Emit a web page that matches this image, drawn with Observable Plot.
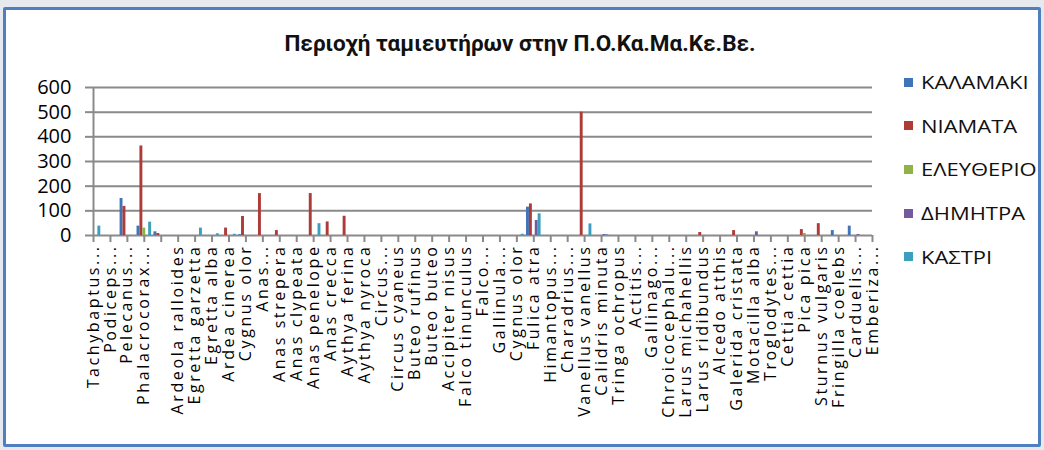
<!DOCTYPE html>
<html>
<head>
<meta charset="utf-8">
<script src="https://cdn.jsdelivr.net/npm/d3@7"></script>
<script src="https://cdn.jsdelivr.net/npm/@observablehq/plot@0.6"></script>
<style>
  html, body { margin: 0; padding: 0; background: #e6eaef; }
  #page { position: relative; width: 1044px; height: 450px; overflow: hidden; }
  #box { position: absolute; left: 3px; top: 7px; width: 1032px; height: 434px;
         border: 3px solid #4f7fbf; background: #fff; border-radius: 2px; }
  #title { position: absolute; left: 0; width: 1040px; top: 30px; text-align: center;
           font-family: Roboto, "Open Sans", sans-serif; font-weight: bold; font-size: 22.5px; color: #111; }
  #chart { position: absolute; left: 0; top: 0; }
  #chart g[aria-label="text"] { letter-spacing: 2.6px; }
  #legend { position: absolute; left: 904px; top: 70px; font-family: "Open Sans", sans-serif; font-size: 18px; color: #111; }
  .li { position: absolute; left: 0; white-space: nowrap; display: flex; align-items: center; }
  .sw { width: 9px; height: 9px; margin-right: 8px; }
  .lt { display: inline-block; transform: scaleX(1.22); transform-origin: left center; }
</style>
</head>
<body>
<div id="page">
  <div id="box"></div>
  <div id="title">Περιοχή ταμιευτήρων στην Π.Ο.Κα.Μα.Κε.Βε.</div>
  <div id="chart"></div>
  <div id="legend"></div>
</div>
<script>
// Categories (index 4 has no label in the original)
const categories = [
  "Tachybaptus...", "Podiceps...", "Pelecanus...", "Phalacrocorax...", "",
  "Ardeola ralloides", "Egretta garzetta", "Egretta alba", "Ardea cinerea", "Cygnus olor",
  "Anas...", "Anas strepera", "Anas clypeata", "Anas penelope", "Anas crecca",
  "Aythya ferina", "Aythya nyroca", "Circus...", "Circus cyaneus", "Buteo rufinus",
  "Buteo buteo", "Accipiter nisus", "Falco tinunculus", "Falco...", "Gallinula...",
  "Cygnus olor", "Fulica atra", "Himantopus...", "Charadrius...", "Vanellus vanellus",
  "Calidris minuta", "Tringa ochropus", "Actitis...", "Gallinago...", "Chroicocephalu...",
  "Larus michahellis", "Larus ridibundus", "Alcedo atthis", "Galerida cristata", "Motacilla alba",
  "Troglodytes...", "Cettia cettia", "Pica pica", "Sturnus vulgaris", "Fringilla coelebs",
  "Carduelis...", "Emberiza..."
];

const seriesNames = ["ΚΑΛΑΜΑΚΙ", "ΝΙΑΜΑΤΑ", "ΕΛΕΥΘΕΡΙΟ", "ΔΗΜΗΤΡΑ", "ΚΑΣΤΡΙ"];
const seriesColors = ["#3f74b8", "#ad3b38", "#8fb24b", "#7559a0", "#3b9fbe"];

const kalamaki = [
  0, 0, 150, 38, 15, 0, 0, 0, 0, 3,
  0, 0, 0, 0, 0, 0, 0, 0, 0, 0,
  0, 0, 0, 0, 0, 0, 115, 0, 0, 0,
  0, 0, 0, 0, 0, 0, 0, 0, 0, 0,
  0, 0, 0, 0, 20, 38, 0
];
const niamata = [
  0, 0, 118, 363, 8, 0, 0, 0, 30, 77,
  170, 20, 0, 170, 55, 78, 0, 0, 0, 0,
  0, 0, 0, 0, 0, 0, 128, 0, 0, 500,
  0, 0, 0, 0, 0, 0, 12, 0, 20, 0,
  0, 0, 24, 48, 0, 0, 0
];
const eleftherio = [
  0, 0, 0, 30, 0, 0, 0, 0, 0, 0,
  0, 0, 0, 0, 0, 0, 0, 0, 0, 0,
  0, 0, 0, 0, 0, 0, 0, 0, 0, 0,
  0, 0, 0, 0, 0, 0, 0, 0, 0, 0,
  0, 0, 8, 0, 0, 0, 0
];
const dimitra = [
  0, 0, 0, 0, 0, 0, 0, 0, 0, 0,
  0, 0, 0, 0, 0, 0, 0, 0, 0, 0,
  0, 0, 0, 0, 0, 0, 61, 0, 0, 0,
  4, 0, 0, 0, 0, 0, 0, 0, 0, 15,
  0, 0, 0, 0, 0, 4, 0
];
const kastri = [
  38, 0, 0, 54, 0, 0, 30, 7, 5, 0,
  0, 0, 0, 48, 0, 0, 0, 0, 0, 0,
  0, 0, 0, 0, 0, 5, 88, 0, 0, 47,
  3, 0, 0, 0, 0, 0, 0, 0, 0, 0,
  0, 0, 0, 0, 0, 0, 0
];

const yTicks = [0, 100, 200, 300, 400, 500, 600];

const seriesValues = [kalamaki, niamata, eleftherio, dimitra, kastri];
const rows = [];
seriesValues.forEach((vals, k) => {
  vals.forEach((v, i) => { if (v > 0) rows.push({i, k, series: seriesNames[k], value: v}); });
});
const catIndex = d3.range(categories.length);

const BW = 0.172; // bar width in category units
const GRID = "#8a8a8a";

const chart = Plot.plot({
  width: 900,
  height: 440,
  marginLeft: 93,
  marginRight: 28,
  marginTop: 87,
  marginBottom: 205,
  style: { fontFamily: "'Open Sans', sans-serif", color: "#000", background: "transparent" },
  x: { type: "linear", domain: [0, categories.length - 1], axis: null },
  y: { domain: [0, 600], axis: null },
  color: { domain: seriesNames, range: seriesColors },
  marks: [
    Plot.gridY(yTicks, { stroke: GRID, strokeOpacity: 1, strokeWidth: 2 }),
    Plot.axisY({ ticks: yTicks, label: null, tickSize: 8, tickPadding: 14, fontSize: 20, stroke: GRID, strokeWidth: 2 }),
    Plot.ruleX([0], { stroke: GRID, strokeWidth: 2 }),
    Plot.axisX({
      ticks: catIndex,
      tickFormat: () => "",
      label: null,
      tickSize: 7,
      stroke: GRID,
      strokeWidth: 2
    }),
    Plot.text(catIndex, {
      x: (i) => i,
      y: 0,
      text: (i) => categories[i],
      rotate: -90,
      textAnchor: "end",
      lineAnchor: "middle",
      dy: 9,
      fontSize: 16,
      fill: "#000"
    }),
    Plot.rect(rows, {
      x1: (d) => d.i + (d.k - 2) * BW - BW / 2,
      x2: (d) => d.i + (d.k - 2) * BW + BW / 2,
      y1: 0,
      y2: "value",
      fill: "series"
    })
  ]
});
document.getElementById("chart").appendChild(chart);

// legend
const legend = d3.select("#legend");
seriesNames.forEach((name, k) => {
  const row = legend.append("div").attr("class", "li").style("top", (k * 43.7) + "px");
  row.append("div").attr("class", "sw").style("background", seriesColors[k]);
  row.append("span").attr("class", "lt").text(name);
});
</script>
</body>
</html>
